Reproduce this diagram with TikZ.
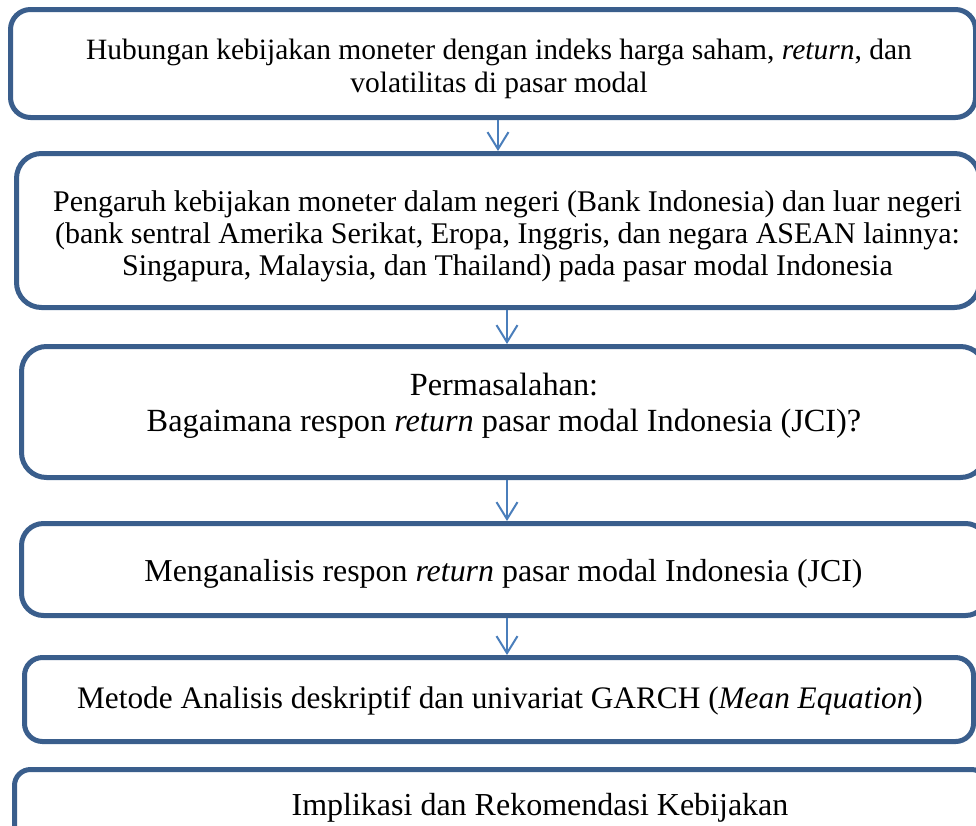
\documentclass[tikz,border=0pt]{standalone}
\usepackage{fontspec}
\setmainfont{Liberation Serif}
\usetikzlibrary{arrows.meta}
\definecolor{boxblue}{HTML}{3A5E8C}
\definecolor{arrblue}{HTML}{4A7EBB}
\tikzset{
  box/.style={draw=boxblue, line width=5pt, fill=white, inner sep=0pt},
  txt/.style={align=center, inner sep=0pt, text=black},
  arr/.style={draw=arrblue, line width=2pt, -{Straight Barb[length=17pt,width=21pt,line width=2pt]}},
}
\begin{document}
\begin{tikzpicture}[x=1pt,y=-1pt]
\useasboundingbox (0,0) rectangle (976,825);
\clip (0,0) rectangle (976,825);
% boxes
\node[box, rounded corners=20pt, minimum width=965pt, minimum height=108pt] (b1) at (493,63.5) {};
\node[box, rounded corners=25pt, minimum width=963pt, minimum height=154pt] (b2) at (498,230.5) {};
\node[box, rounded corners=25pt, minimum width=964pt, minimum height=131pt] (b3) at (503.5,412) {};
\node[box, rounded corners=22pt, minimum width=966pt, minimum height=92pt] (b4) at (504.5,569.5) {};
\node[box, rounded corners=18pt, minimum width=949pt, minimum height=84pt] (b5) at (499,699.5) {};
\node[box, rounded corners=16pt, minimum width=973pt, minimum height=88pt] (b6) at (501,813.5) {};
% texts
\node[txt, font=\fontsize{29.5}{33}\selectfont] (t1) at (499,69) {Hubungan kebijakan moneter dengan indeks harga saham, \textit{return}, dan\\volatilitas di pasar modal};
\node[txt, font=\fontsize{30}{32}\selectfont] (t2) at (507.5,236) {Pengaruh kebijakan moneter dalam negeri (Bank Indonesia) dan luar negeri\\(bank sentral Amerika Serikat, Eropa, Inggris, dan negara ASEAN lainnya:\\Singapura, Malaysia, dan Thailand) pada pasar modal Indonesia};
\node[txt, font=\fontsize{32.3}{35.5}\selectfont] (t3) at (504,406) {Permasalahan:\\Bagaimana respon \textit{return} pasar modal Indonesia (JCI)?};
\node[txt, font=\fontsize{31.9}{36}\selectfont] (t4) at (503.5,574) {Menganalisis respon \textit{return} pasar modal Indonesia (JCI)};
\node[txt, font=\fontsize{31.3}{36}\selectfont] (t5) at (500,701) {Metode Analisis deskriptif dan univariat GARCH (\textit{Mean Equation})};
\node[txt, font=\fontsize{32}{36}\selectfont] (t6) at (540,808) {Implikasi dan Rekomendasi Kebijakan};
% arrows
\coordinate (ax1) at (498,0);
\coordinate (ax2) at (507,0);
\draw[arr] (b1.south -| ax1) -- (b2.north -| ax1);
\draw[arr] (b2.south -| ax2) -- (b3.north -| ax2);
\draw[arr] (b3.south -| ax2) -- (b4.north -| ax2);
\draw[arr] (b4.south -| ax2) -- (b5.north -| ax2);
\end{tikzpicture}
\end{document}
